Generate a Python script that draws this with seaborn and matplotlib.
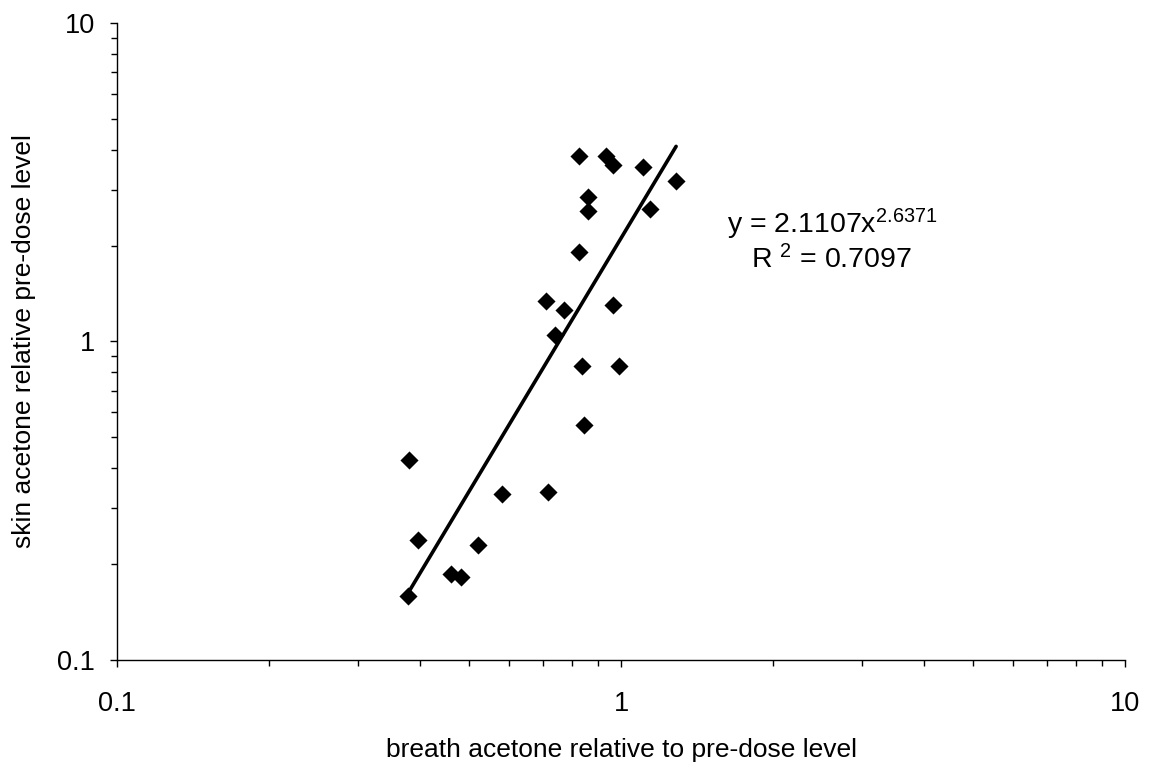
import numpy as np
import pandas as pd
import matplotlib
matplotlib.use('Agg')
import matplotlib.pyplot as plt
import matplotlib.ticker as mticker
import seaborn as sns

# data (relative to pre-dose level)
breath = [0.380, 0.396, 0.377, 0.460, 0.481, 0.520, 0.581, 0.717, 0.844,
          0.827, 0.934, 0.963, 1.107, 1.286, 0.861, 0.861, 1.142, 0.827,
          0.711, 0.771, 0.963, 0.741, 0.836, 0.992]
skin = [0.425, 0.238, 0.159, 0.186, 0.182, 0.230, 0.331, 0.337, 0.547,
        3.82, 3.82, 3.58, 3.52, 3.19, 2.84, 2.56, 2.61, 1.91,
        1.344, 1.256, 1.30, 1.048, 0.839, 0.839]

# power trendline y = a*x^b
fit_a = 2.1107
fit_b = 2.6371
fit_r2 = 0.7097

data = pd.DataFrame({'breath': breath, 'skin': skin})

sns.set_style('ticks')
plt.rcParams['font.family'] = ['Liberation Sans', 'DejaVu Sans']
plt.rcParams['mathtext.fontset'] = 'custom'
plt.rcParams['mathtext.rm'] = 'Liberation Sans'
plt.rcParams['mathtext.it'] = 'Liberation Sans'
plt.rcParams['text.color'] = 'black'
plt.rcParams['axes.labelcolor'] = 'black'
plt.rcParams['xtick.color'] = 'black'
plt.rcParams['ytick.color'] = 'black'

fig = plt.figure(figsize=(11.52, 7.76), dpi=100)
ax = fig.add_axes([0.1016, 0.1495, 0.875, 0.8209])

# trendline over the data range
xs = np.linspace(min(breath), max(breath), 100)
ax.plot(xs, fit_a * xs ** fit_b, color='black', lw=2.6, zorder=2)

sns.scatterplot(data=data, x='breath', y='skin', marker='D', color='black',
                s=85, edgecolor='black', linewidth=0, ax=ax, zorder=3)

ax.set_xscale('log')
ax.set_yscale('log')
ax.set_xlim(0.1, 10)
ax.set_ylim(0.1, 10)

fmt = mticker.FuncFormatter(lambda v, p: '{:g}'.format(v))
ax.xaxis.set_major_formatter(fmt)
ax.yaxis.set_major_formatter(fmt)
ax.xaxis.set_minor_formatter(mticker.NullFormatter())
ax.yaxis.set_minor_formatter(mticker.NullFormatter())

ax.tick_params(which='major', direction='out', length=5, width=1, labelsize=19.5,
               color='black', labelcolor='black')
ax.tick_params(which='minor', direction='out', length=4, width=1, color='black')
ax.tick_params(axis='x', which='major', pad=17)
ax.tick_params(axis='y', which='major', pad=11)

sns.despine(ax=ax)
for sp in ['left', 'bottom']:
    ax.spines[sp].set_color('black')
    ax.spines[sp].set_linewidth(1)

ax.set_xlabel('breath acetone relative to pre-dose level', fontsize=19, color='black')
ax.set_ylabel('skin acetone relative pre-dose level', fontsize=19, color='black')
ax.xaxis.set_label_coords(0.5, -0.122)
ax.yaxis.set_label_coords(-0.08, 0.5)

ax.text(0.7098, 0.6703, 'y = %.4fx$^{%.4f}$' % (fit_a, fit_b), transform=ax.transAxes,
        fontsize=20.5, ha='center', va='baseline', color='black')
ax.text(0.7088, 0.6154, 'R $^{2}$ = %.4f' % fit_r2, transform=ax.transAxes,
        fontsize=20.5, ha='center', va='baseline', color='black')

plt.savefig('out.png', dpi=100)
